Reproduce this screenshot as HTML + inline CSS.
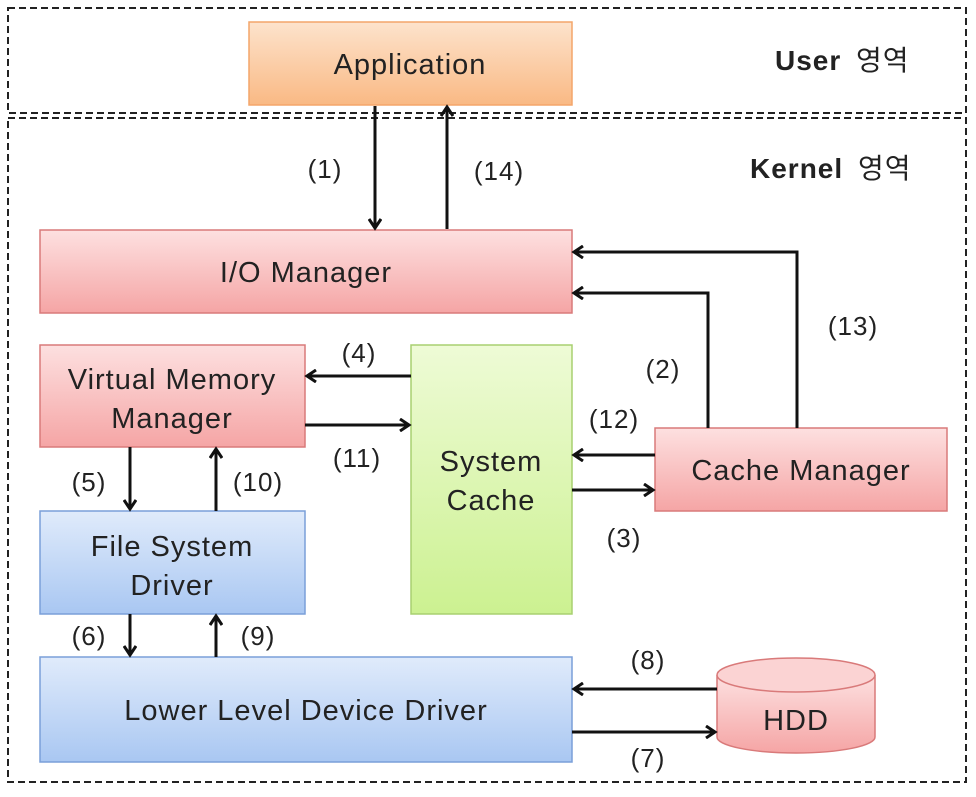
<!DOCTYPE html>
<html><head><meta charset="utf-8"><style>
body{margin:0;background:#fff;width:976px;height:792px;overflow:hidden}
svg text{font-family:"Liberation Sans","Noto Sans CJK KR",sans-serif;fill:#222}
</style></head><body>
<svg width="976" height="792" viewBox="0 0 976 792" xmlns="http://www.w3.org/2000/svg">
<defs>
<linearGradient id="or" x1="0" y1="0" x2="0" y2="1"><stop offset="0" stop-color="#fde3cc"/><stop offset="1" stop-color="#f9b984"/></linearGradient>
<linearGradient id="rd" x1="0" y1="0" x2="0" y2="1"><stop offset="0" stop-color="#fde0e0"/><stop offset="1" stop-color="#f5a5a5"/></linearGradient>
<linearGradient id="bl" x1="0" y1="0" x2="0" y2="1"><stop offset="0" stop-color="#e0ebfb"/><stop offset="1" stop-color="#a9c7f2"/></linearGradient>
<linearGradient id="gr" x1="0" y1="0" x2="0" y2="1"><stop offset="0" stop-color="#eefbd6"/><stop offset="1" stop-color="#ccf191"/></linearGradient>
<marker id="a" markerWidth="14" markerHeight="14" refX="11" refY="7" orient="auto" markerUnits="userSpaceOnUse"><path d="M2,1 L11,7 L2,13" fill="none" stroke="#111" stroke-width="3"/></marker>
</defs>
<g fill="none" stroke="#222" stroke-width="2" stroke-dasharray="7,4">
<rect x="8" y="8" width="958" height="105"/>
<rect x="8" y="118" width="958" height="664"/>
</g>
<rect x="249" y="22" width="323" height="83" fill="url(#or)" stroke="#f4a56a" stroke-width="1.5"/>
<rect x="40" y="230" width="532" height="83" fill="url(#rd)" stroke="#d97a7a" stroke-width="1.5"/>
<rect x="40" y="345" width="265" height="102" fill="url(#rd)" stroke="#d97a7a" stroke-width="1.5"/>
<rect x="411" y="345" width="161" height="269" fill="url(#gr)" stroke="#a8d070" stroke-width="1.5"/>
<rect x="655" y="428" width="292" height="83" fill="url(#rd)" stroke="#d97a7a" stroke-width="1.5"/>
<rect x="40" y="511" width="265" height="103" fill="url(#bl)" stroke="#7a9fd9" stroke-width="1.5"/>
<rect x="40" y="657" width="532" height="105" fill="url(#bl)" stroke="#7a9fd9" stroke-width="1.5"/>
<path d="M717,675 L717,737 A79,16 0 0 0 875,737 L875,675" fill="url(#rd)" stroke="#d97a7a" stroke-width="1.5"/>
<ellipse cx="796" cy="675" rx="79" ry="17" fill="#fbd3d3" stroke="#d97a7a" stroke-width="1.5"/>
<g stroke="#111" stroke-width="3" fill="none" marker-end="url(#a)">
<path d="M375,106 L375,228"/>
<path d="M447,229 L447,107"/>
<path d="M708,428 L708,293 L574,293"/>
<path d="M797,428 L797,252 L574,252"/>
<path d="M411,376 L307,376"/>
<path d="M305,425 L409,425"/>
<path d="M655,455 L574,455"/>
<path d="M572,490 L653,490"/>
<path d="M130,447 L130,509"/>
<path d="M216,511 L216,449"/>
<path d="M130,614 L130,655"/>
<path d="M216,657 L216,616"/>
<path d="M717,689 L574,689"/>
<path d="M572,732 L715,732"/>
</g>
<g font-size="29" text-anchor="middle" letter-spacing="1">
<text x="410" y="74">Application</text>
<text x="306" y="282">I/O Manager</text>
<text x="172" y="389">Virtual Memory</text>
<text x="172" y="428">Manager</text>
<text x="491" y="471">System</text>
<text x="491" y="510">Cache</text>
<text x="801" y="480">Cache Manager</text>
<text x="172" y="556">File System</text>
<text x="172" y="595">Driver</text>
<text x="306" y="720">Lower Level Device Driver</text>
<text x="796" y="730">HDD</text>
</g>
<g font-size="26" text-anchor="middle" letter-spacing="1">
<text x="325" y="178">(1)</text>
<text x="499" y="180">(14)</text>
<text x="853" y="335">(13)</text>
<text x="663" y="378">(2)</text>
<text x="359" y="362">(4)</text>
<text x="357" y="467">(11)</text>
<text x="614" y="428">(12)</text>
<text x="624" y="547">(3)</text>
<text x="89" y="491">(5)</text>
<text x="258" y="491">(10)</text>
<text x="89" y="645">(6)</text>
<text x="258" y="645">(9)</text>
<text x="648" y="669">(8)</text>
<text x="648" y="767">(7)</text>
</g>
<g font-size="28" font-weight="bold" letter-spacing="1">
<text x="775" y="70">User <tspan font-weight="normal" dx="6">영역</tspan></text>
<text x="750" y="178">Kernel <tspan font-weight="normal" dx="6">영역</tspan></text>
</g>
</svg>
</body></html>
